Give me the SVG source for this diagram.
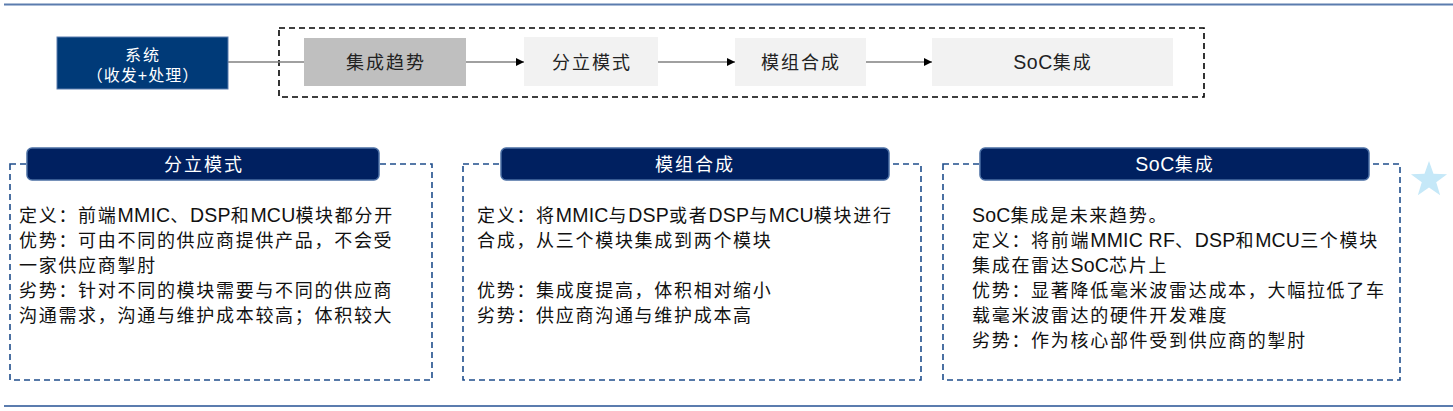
<svg xmlns="http://www.w3.org/2000/svg" width="1453" height="411" viewBox="0 0 1453 411">
<defs>
<style>
.t{font-family:"Liberation Sans","Noto Sans CJK SC",sans-serif;}
.body{font-size:18px;fill:#111;letter-spacing:1.7px;}
.l{letter-spacing:0.2px;font-size:19.5px;}
.top{font-size:18px;fill:#222;letter-spacing:2px;text-anchor:middle;}
.hdr{font-size:18px;fill:#fff;letter-spacing:2px;text-anchor:middle;}
.panel{fill:none;stroke:#1f4e8c;stroke-width:1.6;stroke-dasharray:6 4;}
.head{fill:#002060;stroke:#4a6ea3;stroke-width:1.5;}
.conn{stroke:#808080;stroke-width:1.5;fill:none;}
.step{fill:#f2f2f2;}
</style>
<marker id="arr" viewBox="0 0 8 8" refX="8" refY="4" markerWidth="8" markerHeight="8" markerUnits="userSpaceOnUse" orient="auto">
<path d="M0,0 L8,4 L0,8 Z" fill="#000"/>
</marker>
</defs>
<rect width="1453" height="411" fill="#fff"/>
<line x1="4" y1="4.5" x2="1453" y2="4.5" stroke="#5b7cae" stroke-width="2"/>
<line x1="4" y1="406" x2="1453" y2="406" stroke="#5b7cae" stroke-width="2"/>

<rect x="279" y="28" width="925" height="69" fill="none" stroke="#000" stroke-width="1.6" stroke-dasharray="6 4"/>

<g id="connectors">
<line class="conn" x1="228" y1="62" x2="304" y2="62"/>
<line class="conn" x1="466" y1="62" x2="524" y2="62" marker-end="url(#arr)"/>
<line class="conn" x1="658" y1="62" x2="735" y2="62" marker-end="url(#arr)"/>
<line class="conn" x1="866" y1="62" x2="932" y2="62" marker-end="url(#arr)"/>
</g>

<g id="system">
<rect x="57" y="37" width="171" height="52" fill="#003a78" stroke="#5b7cae" stroke-width="1"/>
<text class="t" x="143" y="61" font-size="16" fill="#fff" text-anchor="middle" letter-spacing="2">系统</text>
<text class="t" x="143" y="81" font-size="16" fill="#fff" text-anchor="middle" letter-spacing="1">（收发+处理）</text>
</g>

<g id="trend">
<rect x="304" y="38" width="162" height="48" fill="#bfbfbf"/>
<text class="t top" x="386" y="69">集成趋势</text>
</g>
<g id="discrete">
<rect class="step" x="524" y="37" width="134" height="49"/>
<text class="t top" x="592" y="69">分立模式</text>
</g>
<g id="module">
<rect class="step" x="735" y="38" width="131" height="48"/>
<text class="t top" x="801" y="69">模组合成</text>
</g>
<g id="soc">
<rect class="step" x="932" y="38" width="241" height="48"/>
<text class="t top" x="1053" y="69"><tspan font-size="19.5" letter-spacing="0.5">SoC</tspan>集成</text>
</g>

<g id="panel1">
<rect class="panel" x="10" y="164" width="422" height="216"/>
<rect class="head" x="27" y="148" width="352" height="32" rx="5"/>
<text class="t hdr" x="204" y="171">分立模式</text>
<text class="t body" x="19" y="222">定义：前端<tspan class="l">MMIC</tspan>、<tspan class="l">DSP</tspan>和<tspan class="l">MCU</tspan>模块都分开</text>
<text class="t body" x="19" y="247">优势：可由不同的供应商提供产品，不会受</text>
<text class="t body" x="19" y="272">一家供应商掣肘</text>
<text class="t body" x="19" y="297">劣势：针对不同的模块需要与不同的供应商</text>
<text class="t body" x="19" y="322">沟通需求，沟通与维护成本较高；体积较大</text>
</g>

<g id="panel2">
<rect class="panel" x="463" y="164" width="458" height="216"/>
<rect class="head" x="501" y="148" width="388" height="32" rx="5"/>
<text class="t hdr" x="695" y="171">模组合成</text>
<text class="t body" x="477" y="222">定义：将<tspan class="l">MMIC</tspan>与<tspan class="l">DSP</tspan>或者<tspan class="l">DSP</tspan>与<tspan class="l">MCU</tspan>模块进行</text>
<text class="t body" x="477" y="247">合成，从三个模块集成到两个模块</text>
<text class="t body" x="477" y="297">优势：集成度提高，体积相对缩小</text>
<text class="t body" x="477" y="322">劣势：供应商沟通与维护成本高</text>
</g>

<g id="panel3">
<rect class="panel" x="943" y="164" width="457" height="216"/>
<rect class="head" x="980" y="148" width="389" height="32" rx="5"/>
<text class="t hdr" x="1175" y="171"><tspan font-size="19.5" letter-spacing="0.5">SoC</tspan>集成</text>
<text class="t body" x="972" y="222"><tspan class="l">SoC</tspan>集成是未来趋势。</text>
<text class="t body" x="972" y="247">定义：将前端<tspan class="l">MMIC RF</tspan>、<tspan class="l">DSP</tspan>和<tspan class="l">MCU</tspan>三个模块</text>
<text class="t body" x="972" y="272">集成在雷达<tspan class="l">SoC</tspan>芯片上</text>
<text class="t body" x="972" y="297">优势：显著降低毫米波雷达成本，大幅拉低了车</text>
<text class="t body" x="972" y="322">载毫米波雷达的硬件开发难度</text>
<text class="t body" x="972" y="347">劣势：作为核心部件受到供应商的掣肘</text>
</g>

<polygon points="1429,161 1433.47,173.85 1447.07,174.13 1436.23,182.35 1440.17,195.37 1429,187.6 1417.83,195.37 1421.77,182.35 1410.93,174.13 1424.53,173.85" fill="#c5e8f8"/>
</svg>
